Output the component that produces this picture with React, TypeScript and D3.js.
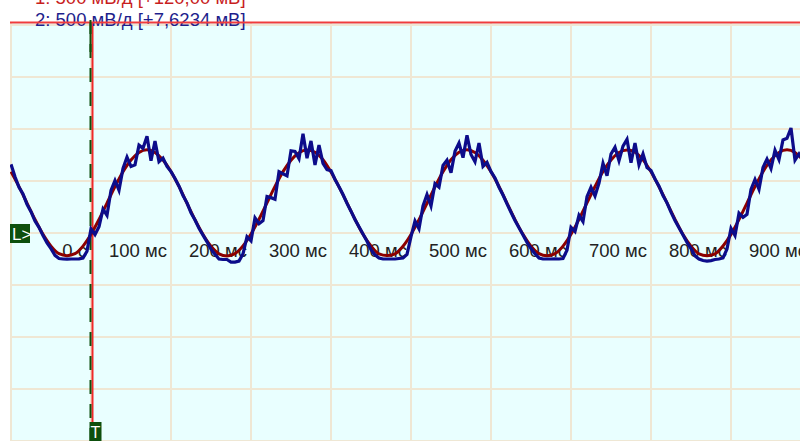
import * as d3 from "d3";

const W = 800;
const H = 441;
const PLOT = { left: 10, top: 22 };

// time axis (ms), one sample every 10 ms for ch1 and 5 ms for ch2
const T_START = -100;
const CH1_STEP = 10;
const CH2_STEP = 5;
const timeTicks = [0, 100, 200, 300, 400, 500, 600, 700, 800, 900];
const gridTimes = [-100, 0, 100, 200, 300, 400, 500, 600, 700, 800];
const gridVolts = [-2000, -1500, -1000, -500, 0, 500, 1000, 1500, 2000];

// channel 1 (mV) - smooth reference
const ch1Values = [
  589, 446, 288, 130, -13, -126, -199, -218, -199, -126, -13, 130, 288, 446, 589, 702, 775, 800, 775, 702,
  592, 448, 286, 128, -15, -128, -200, -220, -198, -124, -10, 132, 290, 448, 590, 700, 772, 798, 776, 705,
  586, 444, 290, 132, -12, -125, -201, -217, -200, -127, -14, 128, 286, 444, 588, 704, 776, 801, 773, 700,
  590, 447, 287, 129, -13, -127, -198, -219, -199, -126, -12, 131, 289, 447, 591, 702, 774, 799, 777, 703,
  588, 445, 289, 131, -14, -126, -200, -218, -201, -125, -13, 130, 288, 446, 589, 703, 775, 800, 774, 701,
];

// channel 2 (mV) - noisy
const ch2Values = [
  660, 540, 440, 375, 275, 205, 115, 55, -25, -95, -150, -215, -245, -250, -252, -250, -250, -248, -240,
  -175, 40, -15, 60, 230, 170, 410, 505, 410, 620, 730, 640, 655, 845, 815, 930, 695, 885, 685, 720, 640,
  590, 525, 450, 360, 290, 195, 125, 45, -20, -85, -155, -205, -250, -255, -255, -280, -280, -270, -200,
  -35, -75, 145, 90, 120, 350, 340, 325, 590, 570, 550, 790, 785, 715, 955, 720, 885, 655, 845, 670, 610,
  600, 515, 445, 370, 285, 210, 130, 60, -10, -80, -160, -210, -240, -250, -250, -250, -250, -245, -240,
  -205, -35, 115, 40, 260, 370, 260, 475, 440, 650, 700, 580, 785, 865, 725, 940, 755, 685, 865, 640, 680,
  590, 530, 440, 365, 280, 200, 120, 50, -20, -90, -150, -200, -240, -250, -250, -250, -248, -250, -245,
  -165, 55, 15, 170, 110, 350, 440, 355, 480, 670, 550, 760, 825, 695, 835, 900, 675, 865, 655, 760, 630,
  600, 520, 450, 360, 290, 200, 120, 50, -20, -90, -150, -220, -250, -265, -270, -265, -255, -250, -240,
  -155, 45, -25, 190, 150, 180, 420, 515, 420, 630, 710, 620, 795, 705, 895, 910, 1010, 700, 760, 700,
];

const header1 = "1: 500 мВ/д [+120,00 мВ]";
const header2 = "2: 500 мВ/д [+7,6234 мВ]";

const FONT = '"Liberation Sans", Arial, sans-serif';
const GREEN = "#0d4f0d";

export default function App() {
  // 100 ms per 80 px, 500 mV per 52 px
  const xScale = d3.scaleLinear().domain([-100, 900]).range([11, 811]);
  const yScale = d3.scaleLinear().domain([-2000, 2000]).range([441, 25]);

  const line = d3
    .line<number>()
    .x((_, i) => xScale(T_START + i * CH1_STEP))
    .y((d) => yScale(d))
    .curve(d3.curveMonotoneX);

  const line2 = d3
    .line<number>()
    .x((_, i) => xScale(T_START + i * CH2_STEP))
    .y((d) => yScale(d));

  const trigX = xScale(0) + 1.5;

  return (
    <svg
      width={W}
      height={H}
      style={{ position: "absolute", left: 0, top: 0, background: "#fff" }}
    >
      <defs>
        <clipPath id="plot">
          <rect x={PLOT.left} y={PLOT.top} width={W - PLOT.left} height={H - PLOT.top} />
        </clipPath>
      </defs>
      <rect x={PLOT.left} y={PLOT.top} width={W - PLOT.left} height={H - PLOT.top} fill="#e9ffff" />
      <g clipPath="url(#plot)">
        {gridTimes.map((t) => (
          <line key={t} x1={xScale(t)} x2={xScale(t)} y1={PLOT.top} y2={H} stroke="#efe7d4" strokeWidth={2} />
        ))}
        {gridVolts.map((v) => (
          <line key={v} x1={PLOT.left} x2={W} y1={yScale(v)} y2={yScale(v)} stroke="#efe7d4" strokeWidth={2} />
        ))}
        {timeTicks.map((t) => (
          <text
            key={t}
            x={xScale(t) - 4}
            y={yScale(0) + 24}
            textAnchor="end"
            fontFamily={FONT}
            fontSize={18.5}
            fill="#222"
          >
            {t === 0 ? "0 с" : `${t} мс`}
          </text>
        ))}
        <line x1={trigX} x2={trigX} y1={PLOT.top} y2={H} stroke="#f02828" strokeWidth={2} />
        <line
          x1={trigX - 2}
          x2={trigX - 2}
          y1={PLOT.top - 2}
          y2={H}
          stroke={GREEN}
          strokeWidth={2}
          strokeDasharray="14,10"
        />
        <path d={line(ch1Values) ?? ""} fill="none" stroke="#8c0000" strokeWidth={3} />
        <path
          d={line2(ch2Values) ?? ""}
          fill="none"
          stroke="#0c0c8a"
          strokeWidth={3.2}
          strokeLinejoin="miter"
        />
      </g>
      <text x={35} y={4} fontFamily={FONT} fontSize={18.5} fill="#c81e1e">
        {header1}
      </text>
      <text x={35} y={26} fontFamily={FONT} fontSize={18.5} fill="#1e1e8c">
        {header2}
      </text>
      <line x1={PLOT.left} x2={W} y1={PLOT.top + 0.5} y2={PLOT.top + 0.5} stroke="#f03c3c" strokeWidth={2} />
      <line x1={trigX - 2} x2={trigX - 2} y1={PLOT.top - 2} y2={PLOT.top + 30} stroke={GREEN} strokeWidth={2} />
      {/* level marker */}
      <rect x={10} y={yScale(0) - 9} width={20} height={19} fill={GREEN} />
      <text x={12} y={yScale(0) + 7} fontFamily={FONT} fontSize={17} fill="#fff">
        L&gt;
      </text>
      {/* trigger marker */}
      <rect x={trigX - 3} y={422} width={12} height={19} fill={GREEN} />
      <text x={trigX + 3} y={438} textAnchor="middle" fontFamily={FONT} fontSize={16} fill="#fff">
        T
      </text>
    </svg>
  );
}
